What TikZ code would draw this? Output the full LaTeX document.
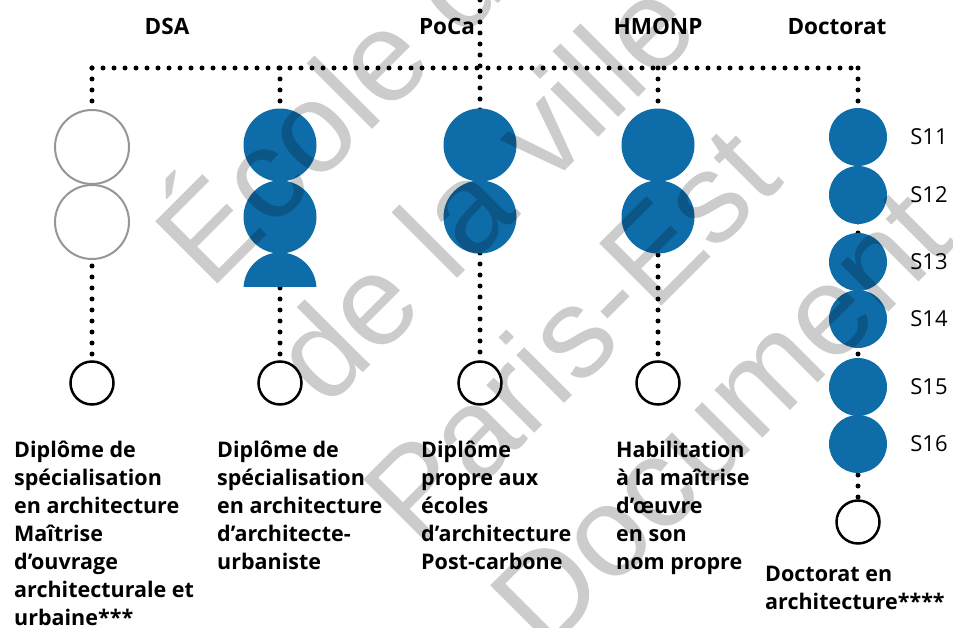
\documentclass[tikz,border=0pt]{standalone}
\usepackage{fontspec}
\setmainfont{Open Sans}
\newfontfamily\wmfont{Liberation Sans}
\usetikzlibrary{positioning}
\definecolor{ensablue}{RGB}{14,108,168}
\definecolor{ghostgray}{RGB}{150,150,150}

\begin{document}
\begin{tikzpicture}[x=1pt,y=-1pt,
	dotline/.style={line width=5pt,line cap=round,dash pattern=on 0pt off 11pt},
	bigsem/.style={circle,fill=ensablue,minimum size=73pt,inner sep=0pt},
	semester/.style={circle,fill=ensablue,minimum size=58pt,inner sep=0pt},
	ghost/.style={circle,draw=ghostgray,line width=2pt,fill=white,minimum size=74pt,inner sep=0pt},
	degree/.style={circle,draw=black,line width=2.5pt,fill=white,minimum size=43pt,inner sep=0pt},
	coltitle/.style={font=\bfseries\fontsize{22.5}{28}\selectfont,anchor=base,inner sep=0pt},
	captext/.style={font=\bfseries\fontsize{21.5}{28}\selectfont,align=left,anchor=north west,inner sep=0pt},
	slabel/.style={font=\fontsize{22}{26}\selectfont,anchor=west,inner sep=0pt},
	watermark/.style={font=\wmfont\fontsize{128}{128}\selectfont,opacity=0.2,rotate=45,anchor=base west,inner sep=0pt}]
	\useasboundingbox (0,0) rectangle (953,628);
	% titles
	\node[coltitle] (t-dsa) at (167,35) {DSA};
	\node[coltitle] (t-poca) at (447,35) {PoCa};
	\node[coltitle] (t-hmonp) at (658,35) {HMONP};
	\node[coltitle] (t-doc) at (837,35) {Doctorat};
	% diplomas
	\foreach \name/\x in {dsa/92,dspa/280,poca/480,hmonp/658}
		\node[degree] (\name-end) at (\x,383) {};
	\node[degree] (doc-end) at (858,522) {};
	% dotted links
	\coordinate (bus) at (0,68);
	\coordinate (top) at (480,0);
	\draw[dotline] (dsa-end.north |- bus) -- (doc-end.north |- bus);
	\foreach \name in {dsa,dspa,hmonp,doc}
		\draw[dotline] (\name-end.north |- bus) -- (\name-end.north);
	\draw[dotline] (top) -- (poca-end.north);
	% semesters
	\node[ghost] (dsa-s1) at (92,147) {};
	\node[ghost] (dsa-s2) at (92,222) {};
	\node[bigsem] (dspa-s1) at (280,145) {};
	\node[bigsem] (dspa-s2) at (280,217) {};
	\begin{scope}
		\clip (230,240) rectangle (330,287);
		\node[bigsem] (dspa-s3) at (280,289) {};
	\end{scope}
	\foreach \name/\x in {poca/480,hmonp/658} {
		\node[bigsem] (\name-s1) at (\x,145) {};
		\node[bigsem] (\name-s2) at (\x,217) {};
	}
	\foreach \s/\y in {11/137,12/195,13/262,14/319,15/387,16/444} {
		\node[semester] (doc-s\s) at (858,\y) {};
		\node[slabel,right=23pt of doc-s\s] (doc-l\s) {S\s};
	}
	% captions
	\node[captext] (c-dsa) at (14,441) {Diplôme de\\spécialisation\\en architecture\\Maîtrise\\d’ouvrage\\architecturale et\\urbaine***};
	\node[captext] (c-dspa) at (217,441) {Diplôme de\\spécialisation\\en architecture\\d’architecte-\\urbaniste};
	\node[captext] (c-poca) at (421,441) {Diplôme\\propre aux\\écoles\\d’architecture\\Post-carbone};
	\node[captext] (c-hmonp) at (616,441) {Habilitation\\à la maîtrise\\d’œuvre\\en son\\nom propre};
	\node[captext] (c-doc) at (765,566) {Doctorat en\\architecture****};
	% watermark
	\begin{scope}
		\clip (0,0) rectangle (953,628);
		\node[watermark] (wm0) at (210,292) {École d’architecture};
		\node[watermark] (wm1) at (326,410) {de la ville};
		\node[watermark] (wm2) at (418,550) {Paris-Est};
		\node[watermark] (wm3) at (545,656) {Document};
	\end{scope}
\end{tikzpicture}
\end{document}
